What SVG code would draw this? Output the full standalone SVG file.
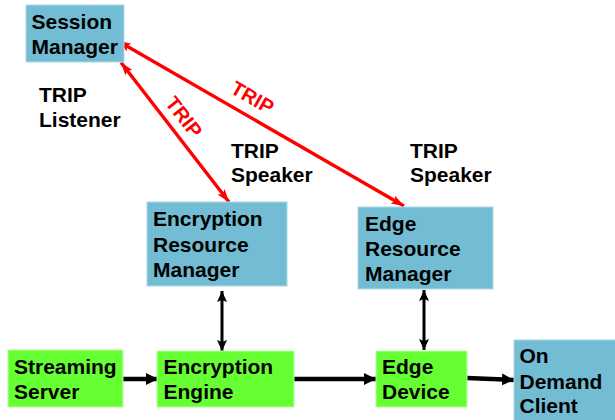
<svg xmlns="http://www.w3.org/2000/svg" width="615" height="420" viewBox="0 0 615 420">
  <style>
    .blue { fill: #72bdd3; stroke: #a9d8e6; stroke-width: 1; }
    .green { fill: #66ff33; stroke: #b8ffa0; stroke-width: 1; }
    text { font-family: "Liberation Sans", Arial, sans-serif; font-weight: bold; font-size: 21px; fill: #000; }
    .red-label { fill: #ff0000; font-size: 20px; }
    .trip { fill: none; stroke: #ff0000; stroke-width: 3.4; }
    .ctl { fill: none; stroke: #000; stroke-width: 3; }
    .flow { fill: none; stroke: #000; stroke-width: 4.5; }
  </style>
  <defs>
    <marker id="redHead" viewBox="0 0 13 9" refX="13" refY="4.5" markerWidth="13" markerHeight="9" markerUnits="userSpaceOnUse" orient="auto-start-reverse">
      <path d="M0,0 L13,4.5 L0,9 L3,4.5 Z" fill="#ff0000"/>
    </marker>
    <marker id="blackHead" viewBox="0 0 11 10" refX="11" refY="5" markerWidth="11" markerHeight="10" markerUnits="userSpaceOnUse" orient="auto-start-reverse">
      <path d="M0,0 L11,5 L0,10 L2,5 Z" fill="#000"/>
    </marker>
    <marker id="flowHead" viewBox="0 0 12 12" refX="12" refY="6" markerWidth="12" markerHeight="12" markerUnits="userSpaceOnUse" orient="auto">
      <path d="M0,0 L12,6 L0,12 Z" fill="#000"/>
    </marker>
  </defs>

  <!-- connectors -->
  <g id="connectors">
    <line class="trip" x1="121" y1="62.5" x2="229" y2="202" marker-start="url(#redHead)" marker-end="url(#redHead)"/>
    <line class="trip" x1="118" y1="41" x2="404" y2="206" marker-start="url(#redHead)" marker-end="url(#redHead)"/>
    <line class="ctl" x1="222" y1="291" x2="222" y2="351" marker-start="url(#blackHead)" marker-end="url(#blackHead)"/>
    <line class="ctl" x1="424" y1="290" x2="424" y2="350" marker-start="url(#blackHead)" marker-end="url(#blackHead)"/>
    <line class="flow" x1="122" y1="379" x2="158" y2="379" marker-end="url(#flowHead)"/>
    <line class="flow" x1="294" y1="379" x2="376" y2="379" marker-end="url(#flowHead)"/>
    <line class="flow" x1="467" y1="378" x2="514" y2="380" marker-end="url(#flowHead)"/>
    <g transform="translate(184,117) rotate(52)"><text class="red-label" x="0" y="7" text-anchor="middle">TRIP</text></g>
    <g transform="translate(252.5,97.5) rotate(30)"><text class="red-label" x="0" y="7" text-anchor="middle">TRIP</text></g>
  </g>

  <!-- free labels -->
  <g id="label-listener">
    <text x="39" y="101.5">TRIP</text>
    <text x="39" y="126.5">Listener</text>
  </g>
  <g id="label-speaker-1">
    <text x="231" y="157.5">TRIP</text>
    <text x="231" y="182">Speaker</text>
  </g>
  <g id="label-speaker-2">
    <text x="410" y="157.5">TRIP</text>
    <text x="410" y="182">Speaker</text>
  </g>

  <!-- nodes -->
  <g id="session-manager">
    <rect class="blue" x="26" y="5" width="98" height="57"/>
    <text x="31.5" y="29">Session</text>
    <text x="31.5" y="54">Manager</text>
  </g>
  <g id="encryption-resource-manager">
    <rect class="blue" x="147" y="202" width="140" height="84"/>
    <text x="153" y="226">Encryption</text>
    <text x="153" y="251.5">Resource</text>
    <text x="153" y="277">Manager</text>
  </g>
  <g id="edge-resource-manager">
    <rect class="blue" x="358" y="207" width="135" height="82"/>
    <text x="365" y="231">Edge</text>
    <text x="365" y="256">Resource</text>
    <text x="365" y="281">Manager</text>
  </g>
  <g id="streaming-server">
    <rect class="green" x="8" y="350" width="115" height="57"/>
    <text x="14" y="374">Streaming</text>
    <text x="14" y="399">Server</text>
  </g>
  <g id="encryption-engine">
    <rect class="green" x="157" y="351" width="137" height="56"/>
    <text x="163.5" y="374">Encryption</text>
    <text x="163.5" y="399">Engine</text>
  </g>
  <g id="edge-device">
    <rect class="green" x="376" y="351" width="91" height="56"/>
    <text x="382" y="374">Edge</text>
    <text x="382" y="399">Device</text>
  </g>
  <g id="on-demand-client">
    <rect class="blue" x="514" y="340" width="102" height="82"/>
    <text x="519.5" y="363">On</text>
    <text x="519.5" y="389">Demand</text>
    <text x="519.5" y="413">Client</text>
  </g>
</svg>
